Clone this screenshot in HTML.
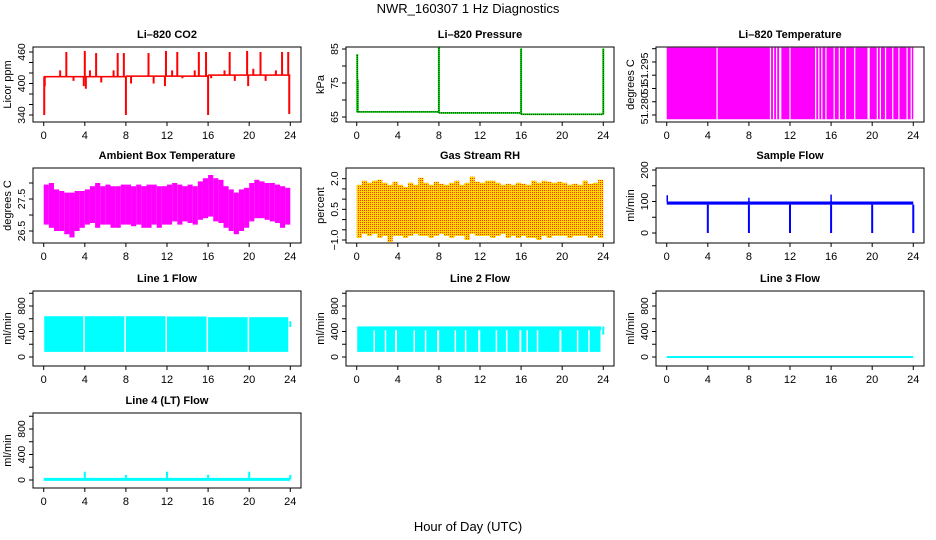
<!DOCTYPE html>
<html><head><meta charset="utf-8"><style>
html,body{margin:0;padding:0;background:#fff;}
svg{display:block;font-family:"Liberation Sans",Arial,sans-serif;}
</style></head><body>
<svg id="chart" width="936" height="540" viewBox="0 0 936 540">
<defs>
<pattern id="rhpat" width="2" height="2" patternUnits="userSpaceOnUse"><rect width="2" height="2" fill="#ffd800"/><rect width="1" height="1" fill="#ff3000"/></pattern>
</defs>
<text x="468" y="13" font-size="13" text-anchor="middle">NWR_160307  1 Hz Diagnostics</text>
<text x="468" y="531" font-size="13" text-anchor="middle">Hour of Day (UTC)</text>
</svg>
<script>
// ---- data ----
const hourTicks = [0,4,8,12,16,20,24];
const co2BaseStart = [0,8,16];
const co2BaseEnd = [8,16,24];
const co2BaseVal = [413,414,416];
const co2SpikeHours = [0.05,0.1,1.6,2.2,2.9,3.9,4.0,4.1,4.5,5.1,5.6,6.8,7.2,7.8,8.0,8.5,10.2,10.7,11.8,11.9,12.5,13.0,13.5,14.7,15.1,15.8,16.0,16.3,17.6,18.1,18.6,19.8,19.9,20.4,21.1,21.6,22.6,23.2,23.8,23.9];
const co2SpikeVals = [340,395,425,460,405,395,462,390,425,458,402,425,458,458,340,400,458,400,395,462,425,460,410,425,460,460,340,410,425,460,405,462,395,428,460,405,425,460,460,342];
const co2Ticks = [340,360,380,400,420,440,460];
const co2Labels = [340,400,460];
const pressBaseStart = [0,8,16];
const pressBaseEnd = [8,16,24];
const pressBaseVal = [66.5,66.2,65.8];
const pressSpikeHours = [0.05,0.1,8.0,16.0,24.0];
const pressSpikeVals = [83.5,76,85.5,85.2,85.2];
const pressTicks = [65,70,75,80,85];
const pressLabels = [65,75,85];
const liTempMin = 51.2734;
const liTempMax = 51.3004;
const liTempGaps = [4.9,10.1,10.4,10.7,11.0,11.1,12.0,14.5,14.8,15.1,15.5,16.3,16.8,17.4,18.3,19.6,19.7,20.5,20.8,21.3,22.0,22.6,23.4,23.8];
const liTempTicks = [51.275,51.28,51.285,51.29,51.295,51.30];
const liTempLabelVals = [51.2775,51.285,51.2925];
const liTempLabelText = ["51.280","51","51.295"];
const ambUpper = [27.95,28.0,27.8,27.75,27.7,27.7,27.75,27.75,27.8,27.9,28.0,27.9,27.95,27.9,27.9,27.95,27.95,27.9,27.95,27.9,27.95,27.95,27.9,27.9,27.95,28.0,27.95,27.9,27.95,27.9,28.05,28.15,28.25,28.15,28.1,27.9,27.8,27.7,27.8,27.85,28.0,28.1,28.05,28.0,28.0,27.95,27.9,27.85];
const ambLower = [26.7,26.6,26.5,26.5,26.4,26.3,26.5,26.6,26.7,26.75,26.6,26.7,26.7,26.6,26.6,26.7,26.7,26.65,26.7,26.6,26.6,26.7,26.6,26.7,26.7,26.8,26.7,26.8,26.75,26.7,26.85,26.9,26.95,26.8,26.75,26.6,26.5,26.4,26.5,26.6,26.8,26.9,26.9,26.85,26.8,26.75,26.6,26.7];
const ambTicks = [26.5,27.0,27.5,28.0];
const ambLabels = [26.5,27.5];
const ambLabelText = ["26.5","27.5"];
const rhUpper = [1.7,1.9,1.8,1.9,1.95,1.8,1.7,1.85,1.7,1.6,1.8,1.7,2.05,1.8,1.7,1.85,1.75,1.7,1.8,1.9,1.7,1.8,2.1,1.85,1.8,1.9,1.9,1.8,1.7,1.75,1.7,1.8,1.75,1.7,1.9,1.8,1.9,1.85,1.8,1.85,1.8,1.7,1.75,1.7,1.9,1.75,1.8,1.95];
const rhLower = [-0.9,-0.7,-0.8,-0.7,-0.9,-0.8,-1.1,-0.8,-0.8,-0.9,-0.8,-0.7,-0.8,-0.8,-0.9,-0.8,-0.7,-0.8,-0.9,-0.8,-0.8,-1.0,-0.7,-0.8,-0.8,-0.8,-0.9,-0.8,-0.7,-0.9,-0.8,-0.9,-0.8,-0.9,-0.9,-1.0,-0.8,-0.9,-0.8,-0.8,-0.8,-0.9,-0.8,-0.8,-0.8,-0.9,-0.8,-0.9];
const rhTicks = [-1.0,-0.5,0,0.5,1.0,1.5,2.0];
const rhLabels = [-1.0,0.5,2.0];
const rhLabelText = ["\u22121.0","0.5","2.0"];
const sampleBaseLo = 90;
const sampleBaseHi = 100;
const sampleDipHours = [4,8,12,16,20,24];
const sampleDipVals = [0,0,0,0,0,0];
const sampleUpHours = [0.05,8,16];
const sampleUpVals = [120,112,122];
const flowTicksSample = [0,50,100,150,200];
const flowLabelsSample = [0,100,200];
const line1Start = [0.05,4.0,8.0,12.0,16.0,20.0];
const line1End = [3.85,7.85,11.85,15.85,19.85,23.8];
const line1Top = [640,640,640,635,625,625];
const line1Bottom = [80,80,80,80,80,80];
const line2Top = 480;
const line2Bottom = 80;
const line2Gaps = [1.7,2.8,3.8,3.85,5.6,6.7,7.9,7.95,9.6,10.6,11.9,11.95,13.6,14.6,15.9,15.95,16.6,17.6,19.8,19.85,21.5,22.6,23.8];
const line3Val = 0;
const line4Base = 10;
const line4SpikeHours = [4,8,12,16,20,24];
const line4SpikeVals = [130,80,130,80,130,80];
const flowTicks = [0,200,400,600,800,1000];
const flowLabels = [0,400,800];

// ---- layout ----
const NS = "http://www.w3.org/2000/svg";
const svg = document.getElementById('chart');
const cols = [33, 346, 656];
const boxW = 268;
const rows = [[47,122],[168,243],[291,366],[413,488]];
function mk(tag, attrs, parent){const e=document.createElementNS(NS,tag);for(const k in attrs)e.setAttribute(k,attrs[k]);(parent||svg).appendChild(e);return e;}

function panel(name, col, row, title, ylab, v0, p0, v1, p1, ticks, labels, labelText){
  const bx = cols[col], by = rows[row][0], bh = rows[row][1]-rows[row][0];
  const g = mk('g',{});
  
  
  const pad = boxW*0.04;
  const x = h => bx + pad + h/24*(boxW-2*pad);
  const y = v => p0 + (v-v0)*(p1-p0)/(v1-v0);
  const plot = mk('g',{},g);
  const cid = 'clip-'+name;
  const cp = mk('clipPath',{id:cid},g); mk('rect',{x:bx,y:by,width:boxW,height:bh},cp);
  plot.setAttribute('clip-path','url(#'+cid+')');
  const box = mk('rect',{x:bx,y:by,width:boxW,height:bh,fill:'none',stroke:'#000','stroke-width':1},g);
  
  
  const t = mk('text',{x:bx+boxW/2,y:by-9,'font-size':11,'font-weight':'bold','text-anchor':'middle'},g);
  t.textContent = title;
  
  
  const xa = mk('g',{},g);
  
  
  mk('line',{x1:x(0),x2:x(24),y1:by+bh,y2:by+bh,stroke:'#000'},xa);
  hourTicks.forEach(h=>{
    mk('line',{x1:x(h),x2:x(h),y1:by+bh,y2:by+bh+4,stroke:'#000'},xa);
    const tt = mk('text',{x:x(h),y:by+bh+17,'font-size':11,'text-anchor':'middle'},xa);
    tt.textContent = h;
  });
  const ya = mk('g',{},g);
  
  
  mk('line',{x1:bx,x2:bx,y1:y(ticks[0]),y2:y(ticks[ticks.length-1]),stroke:'#000'},ya);
  ticks.forEach(v=>mk('line',{x1:bx-4,x2:bx,y1:y(v),y2:y(v),stroke:'#000'},ya));
  labels.forEach((v,i)=>{
    const yy=y(v), xx=bx-8;
    const tt = mk('text',{x:xx,y:yy,'font-size':10.5,'text-anchor':'middle',transform:`rotate(-90 ${xx} ${yy})`},ya);
    tt.textContent = labelText ? labelText[i] : String(v);
  });
  const yl = mk('text',{x:bx-22,y:by+bh/2,'font-size':11,'text-anchor':'middle',transform:`rotate(-90 ${bx-22} ${by+bh/2})`},g);
  yl.textContent = ylab;
  
  
  return {plot,x,y};
}
function vbar(p, h, a, b, color, w){
  return mk('line',{x1:p.x(h),x2:p.x(h),y1:p.y(a),y2:p.y(b),stroke:color,'stroke-width':w||1.5},p.plot);
}
function band(p, h0, h1, a, b, fill){
  const ya=p.y(a), yb=p.y(b);
  return mk('rect',{x:p.x(h0),y:Math.min(ya,yb),width:p.x(h1)-p.x(h0),height:Math.abs(yb-ya),fill:fill},p.plot);
}

let p = panel('co2-panel',0,0,'Li\u2013820 CO2','Licor ppm',340,115,460,52,co2Ticks,co2Labels);
co2BaseStart.forEach((s,i)=>{const r=band(p,s,co2BaseEnd[i],co2BaseVal[i]-1.5,co2BaseVal[i]+1.5,'#ff0000');});
co2SpikeHours.forEach((h,i)=>{const base=co2BaseVal[Math.min(2,Math.floor(h/8))];const l=vbar(p,h,base,co2SpikeVals[i],'#ff0000',2);});

p = panel('pressure-panel',1,0,'Li\u2013820 Pressure','kPa',65,117,85,49,pressTicks,pressLabels);
pressBaseStart.forEach((s,i)=>{const r=band(p,s,pressBaseEnd[i],pressBaseVal[i]-0.25,pressBaseVal[i]+0.25,'#00e000');
  const l=mk('line',{x1:p.x(s),x2:p.x(pressBaseEnd[i]),y1:p.y(pressBaseVal[i]),y2:p.y(pressBaseVal[i]),stroke:'#000','stroke-dasharray':'1 1'},p.plot);});
pressSpikeHours.forEach((h,i)=>{const base=pressBaseVal[Math.min(2,Math.floor(h/8))];const l=vbar(p,h,base,pressSpikeVals[i],'#00e000',2);
  const d=mk('line',{x1:p.x(h),x2:p.x(h),y1:p.y(base),y2:p.y(pressSpikeVals[i]),stroke:'#000','stroke-dasharray':'1 1'},p.plot);});

p = panel('li-temp-panel',2,0,'Li\u2013820 Temperature','degrees C',51.275,115,51.30,48.7,liTempTicks,liTempLabelVals,liTempLabelText);
{const r=band(p,0,24,liTempMin,liTempMax,'#ff00ff');}
liTempGaps.forEach(h=>{const l=vbar(p,h,liTempMin,liTempMax,'#ffffff',1.2);});

p = panel('ambient-temp-panel',0,1,'Ambient Box Temperature','degrees C',27.5,199,26.5,231,ambTicks,ambLabels,ambLabelText);
ambUpper.forEach((u,i)=>{const r=band(p,i*0.5,i*0.5+0.5,ambLower[i],u,'#ff00ff');});

p = panel('rh-panel',1,1,'Gas Stream RH','percent',-1.0,240,2.0,178.7,rhTicks,rhLabels,rhLabelText);
rhUpper.forEach((u,i)=>{const r=band(p,i*0.5,i*0.5+0.5,rhLower[i],u,'url(#rhpat)');});

p = panel('sample-flow-panel',2,1,'Sample Flow','ml/min',0,233,200,170,flowTicksSample,flowLabelsSample);
{const r=band(p,0,24,sampleBaseLo,sampleBaseHi,'#0000ff');}
sampleDipHours.forEach((h,i)=>{const l=vbar(p,h,sampleBaseLo,sampleDipVals[i],'#0000ff',2);});
sampleUpHours.forEach((h,i)=>{const l=vbar(p,h,sampleBaseHi,sampleUpVals[i],'#0000ff',1.5);});

p = panel('line1-flow-panel',0,2,'Line 1 Flow','ml/min',0,357,800,306,flowTicks,flowLabels);
line1Start.forEach((s,i)=>{const r=band(p,s,line1End[i],line1Bottom[i],line1Top[i],'#00ffff');});
{const l=vbar(p,24,470,560,'#00ffff',2);}

p = panel('line2-flow-panel',1,2,'Line 2 Flow','ml/min',0,357,800,306,flowTicks,flowLabels);
{const r=band(p,0.05,23.8,line2Bottom,line2Top,'#00ffff');}
line2Gaps.forEach(h=>{const l=vbar(p,h,line2Bottom,line2Top-60,'#ffffff',1.5);});
{const l=vbar(p,24,350,480,'#00ffff',2);}

p = panel('line3-flow-panel',2,2,'Line 3 Flow','ml/min',0,357,800,306,flowTicks,flowLabels);
{const l=mk('line',{x1:p.x(0),x2:p.x(24),y1:p.y(line3Val),y2:p.y(line3Val),stroke:'#00ffff','stroke-width':2},p.plot);}

p = panel('line4-flow-panel',0,3,'Line 4 (LT) Flow','ml/min',0,480,800,429,flowTicks,flowLabels);
{const l=mk('line',{x1:p.x(0),x2:p.x(24),y1:p.y(line4Base),y2:p.y(line4Base),stroke:'#00ffff','stroke-width':3},p.plot);}
line4SpikeHours.forEach((h,i)=>{const l=vbar(p,h,line4Base,line4SpikeVals[i],'#00ffff',2);});
</script>
</body></html>
